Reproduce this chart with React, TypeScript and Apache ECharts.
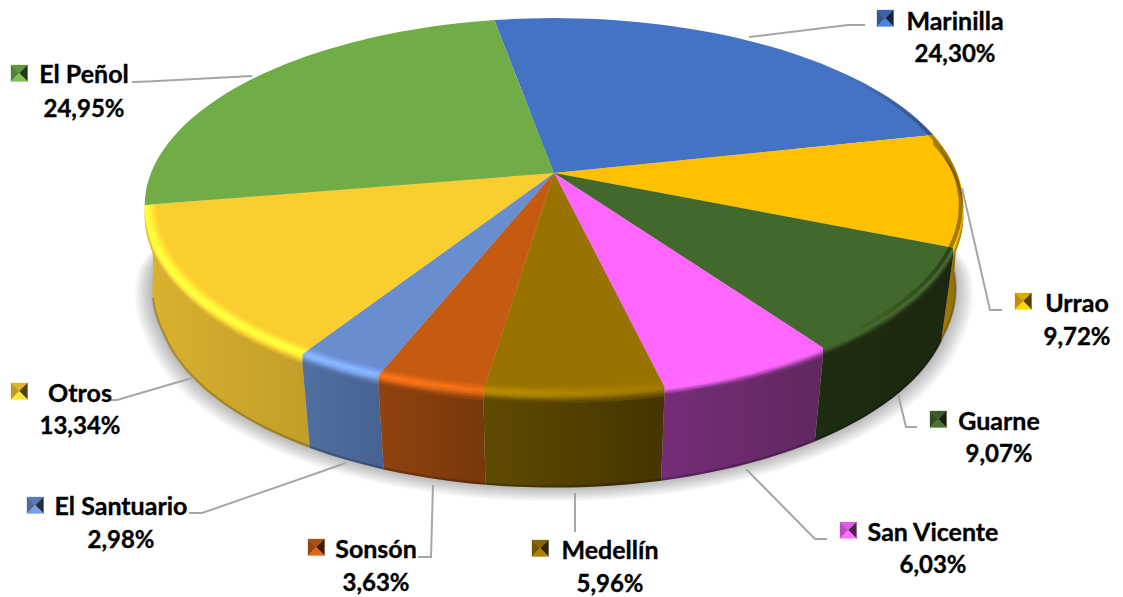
import React, { useEffect, useRef } from "react";
import * as echarts from "echarts";

const categories = ["Marinilla", "Urrao", "Guarne", "San Vicente", "Medellín", "Sonsón", "El Santuario", "Otros", "El Peñol"];
const shareValues = [24.3, 9.72, 9.07, 6.03, 5.96, 3.63, 2.98, 13.34, 24.95];
const shareLabels = ["24,30%", "9,72%", "9,07%", "6,03%", "5,96%", "3,63%", "2,98%", "13,34%", "24,95%"];

const topColors = ["#4472C4", "#FFC000", "#43682B", "#FF66FF", "#997300", "#C55A11", "#698ED0", "#FBCE2F", "#70AD47"];
const wallLeft = ["#2F5597", "#A67C00", "#1E2D12", "#752D78", "#5F4A00", "#90430E", "#50709F", "#D9B22F", "#4A7A2E"];
const wallRight = ["#2A4C88", "#8A6800", "#1B2710", "#60285F", "#443500", "#77370B", "#466292", "#C29E2A", "#44702A"];

// label layout: name centre, name y, value y, key left, key top
const labelLayout: number[][] = [
  [955, 20, 52, 877, 10],
  [1077, 302, 335, 1015, 293],
  [999, 420, 452, 930, 411],
  [933, 531, 563, 840, 522],
  [610, 549, 582, 532, 540],
  [376, 548, 581, 308, 539],
  [121, 505, 538, 27, 497],
  [80, 392, 424, 11, 383],
  [84, 73, 107, 11, 65],
];
const leaderLines: number[][][] = [
  [[749, 37], [848, 25], [865, 25]],
  [[962, 188], [990, 310], [1002, 310]],
  [[898, 394], [906, 427], [917, 427]],
  [[746, 469], [815, 539], [827, 539]],
  [[575, 493], [575, 532]],
  [[433, 485], [431, 557], [418, 557]],
  [[346, 463], [202, 513], [189, 513]],
  [[192, 378], [117, 400], [110, 400]],
  [[132, 82], [148, 81.5], [252, 76]],
];

const CX = 554, CY = 173, R = 403, S = 182, K = 0.175;
const START = -10;
const BEVEL = 9, DROP = 94, SHRINK = 0.97, BANDS = 10, INNER = 0.972;
const NAME_FONT = "bold 25px Lato, Carlito, 'Open Sans', sans-serif";
const VALUE_FONT = "bold 24px Lato, Carlito, 'Open Sans', sans-serif";

const hex = (c: string) => [1, 3, 5].map((i) => parseInt(c.slice(i, i + 2), 16));
const toHex = (a: number[]) => "rgb(" + a.map((v) => Math.max(0, Math.min(255, Math.round(v)))).join(",") + ")";
const mix = (a: number[], b: number[], f: number) => a.map((v, i) => v + (b[i] - v) * f);

function top(tDeg: number, r = 1): number[] {
  const t = (tDeg * Math.PI) / 180;
  const u = Math.sin(t) * r, v = -Math.cos(t) * r;
  const w = 1 - K * v;
  return [CX + (R * u) / w, CY + (S * v) / w];
}
function bottom(tDeg: number): number[] {
  const t = (tDeg * Math.PI) / 180;
  const u = Math.sin(t), v = -Math.cos(t);
  const w = 1 - K * v;
  const shrink = SHRINK + 0.02 * (1 - Math.min(1, Math.abs(v) / 0.35));
  return [CX + (shrink * R * u) / w, CY + DROP + (S * v) / w];
}
function arc(a: number, b: number, fn: (t: number) => number[]): number[][] {
  const n = Math.max(4, Math.ceil(Math.abs(b - a) / 2));
  const out: number[][] = [];
  for (let i = 0; i <= n; i++) out.push(fn(a + ((b - a) * i) / n));
  return out;
}

function highlight(x: number) {
  if (x < 420) return 0.3;
  if (x < 640) return 0.3 - (0.22 * (x - 420)) / 220;
  if (x < 780) return 0.08 - (0.08 * (x - 640)) / 140;
  return 0;
}

// a point on the rounded rim: f runs from inside the top face (0) to the top of the wall (1)
function rimPoint(t: number, f: number): number[] {
  const r = INNER + (1 - INNER) * Math.min(1, f / 0.5);
  const d = BEVEL * Math.max(0, (f - 0.5) / 0.5);
  const p = top(t, r);
  return [p[0], p[1] + d];
}

function renderSlice(params: any, api: any) {
  const idx = params.dataIndex;
  const total = shareValues.reduce((a, b) => a + b, 0);
  const before = shareValues.slice(0, idx).reduce((a, b) => a + b, 0);
  const a0 = START + (before / total) * 360;
  const a1 = a0 + (api.value(0) / total) * 360;
  const midRad = (((a0 + a1) / 2) * Math.PI) / 180;
  const midV = -Math.cos(midRad);
  const children: any[] = [];

  if (idx === 0) {
    // soft ground shadow as stacked translucent outlines
    for (let i = 10; i >= 1; i--) {
      const grow = 1 + (i * 1.7) / 390;
      const pts = arc(0, 360, bottom).map((p) => [
        CX + (p[0] - CX) * grow,
        CY + DROP + 16 + (p[1] - (CY + DROP + 16)) * grow + i * 0.5,
      ]);
      children.push({
        type: "polygon",
        z2: 0,
        shape: { points: pts },
        style: { fill: "rgba(0,0,0,0.026)" },
      });
    }
  }

  const col = hex(topColors[idx]);

  children.push({
    type: "polygon",
    z2: 10,
    shape: { points: [[CX, CY], ...arc(a0, a1, (t) => top(t))] },
    style: { fill: topColors[idx] },
  });

  if (midV > -0.3) {
    // the walls at the two edges stop where the silhouette is widest, so their end edge closes it
    const wallStart = a0 > 70 && a0 < 90 ? 92 : a0;
    const wallEnd = a1 > 250 && a1 < 270 ? a1 + 8 : a1;
    const pts = arc(wallStart, wallEnd, (t) => {
      const p = top(t);
      return [p[0], p[1] + BEVEL];
    }).concat(arc(wallEnd, wallStart, bottom));
    children.push({
      type: "polygon",
      z2: 2 + midV,
      shape: { points: pts },
      style: {
        fill: new echarts.graphic.LinearGradient(0, 0, 1, 0, [
          { offset: 0, color: wallLeft[idx] },
          { offset: 1, color: wallRight[idx] },
        ]),
      },
    });
    children.push({
      type: "polyline",
      z2: 3 + midV,
      shape: { points: arc(wallStart, a1, (t) => { const p = bottom(t); return [p[0], p[1] - 1.2]; }) },
      style: { fill: "none", stroke: "rgba(0,0,0,0.2)", lineWidth: 2.4 },
    });
    const wall = hex(wallLeft[idx]);
    for (let b = 0; b < BANDS; b++) {
      const f0 = b / BANDS, f1 = (b + 1) / BANDS, f = (f0 + f1) / 2;
      const band = arc(a0, a1, (t) => rimPoint(t, f0)).concat(
        arc(a1, a0, (t) => {
          const p = rimPoint(t, f1);
          return [p[0], p[1] + 0.6];
        })
      );
      const toWall = f < 0.62 ? 0 : Math.min(1, (f - 0.62) / 0.33);
      const tent = f < 0.45 ? f / 0.45 : Math.max(0, 1 - (f - 0.45) / 0.5);
      const stops = [];
      for (let s = 0; s <= 10; s++) {
        const x = 140 + 82 * s;
        const c = mix(col, wall, toWall).map((v) => v * (1 + highlight(x) * tent));
        stops.push({ offset: s / 10, color: toHex(c) });
      }
      children.push({
        type: "polygon",
        z2: 11,
        shape: { points: band },
        style: { fill: { type: "linear", x: 140, y: 0, x2: 960, y2: 0, global: true, colorStops: stops } },
      });
    }
  }

  children.push({
    type: "polyline",
    z2: 12,
    shape: { points: arc(a0, a1, (t) => top(t, 0.994)) },
    style: {
      fill: "none",
      lineWidth: 4,
      stroke: {
        type: "linear", x: 140, y: 0, x2: 970, y2: 0, global: true,
        colorStops: [
          { offset: 0, color: "rgba(0,0,0,0)" },
          { offset: 0.85, color: "rgba(0,0,0,0)" },
          { offset: 1, color: "rgba(0,0,0,0.42)" },
        ],
      },
    },
  });

  const [nameX, nameY, valueY, keyX, keyY] = labelLayout[idx];
  children.push({
    type: "polyline",
    z2: 20,
    shape: { points: leaderLines[idx] },
    style: { fill: "none", stroke: "#A6A6A6", lineWidth: 2 },
  });
  const textStyle = { fill: "#000", align: "center", verticalAlign: "middle", stroke: "#000", lineWidth: 0.35 };
  children.push({ type: "text", z2: 21, style: { ...textStyle, font: NAME_FONT, text: categories[idx], x: nameX, y: nameY } });
  children.push({ type: "text", z2: 21, style: { ...textStyle, font: VALUE_FONT, text: shareLabels[idx], x: nameX, y: valueY } });

  const size = 16.5;
  const c: number[] = [keyX + size / 2, keyY + size / 2];
  const tl = [keyX, keyY], tr = [keyX + size, keyY], bl = [keyX, keyY + size], br = [keyX + size, keyY + size];
  const black = [0, 0, 0];
  const facets: [number[][], number[]][] = [
    [[tl, tr, c], mix(col, black, 0.12)],
    [[tl, bl, c], mix(col, black, 0.25)],
    [[tr, br, c], mix(col, black, 0.68)],
    [[bl, br, c], col.map((v) => v * 1.12)],
  ];
  facets.forEach(([pts, color]) => {
    children.push({ type: "polygon", z2: 21, shape: { points: pts }, style: { fill: toHex(color), stroke: toHex(color), lineWidth: 0.3 } });
  });

  return { type: "group", children };
}

export default function App() {
  const ref = useRef<HTMLDivElement>(null);
  useEffect(() => {
    document.body.style.margin = "0";
    const chart = echarts.init(ref.current!, undefined, { renderer: "svg" });
    chart.setOption({
      animation: false,
      backgroundColor: "#ffffff",
      tooltip: { show: false },
      series: [
        {
          type: "custom",
          coordinateSystem: "none",
          silent: true,
          clip: false,
          renderItem: renderSlice,
          data: shareValues.map((v, i) => ({ name: categories[i], value: [v] })),
        },
      ],
    });
    return () => chart.dispose();
  }, []);
  return <div ref={ref} style={{ width: 1123, height: 597 }} />;
}
